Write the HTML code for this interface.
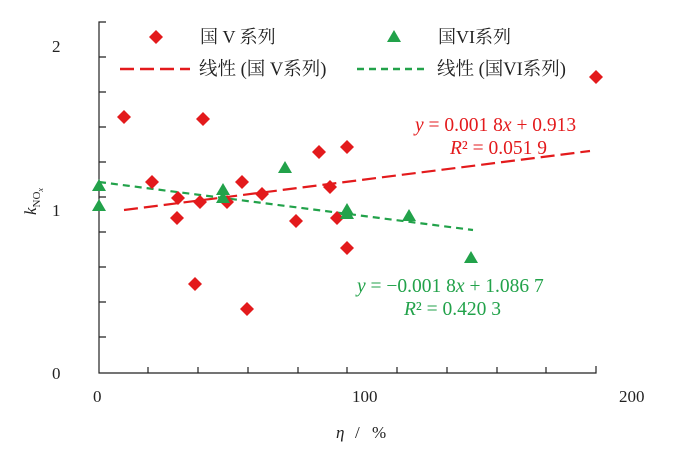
<!DOCTYPE html>
<html><head><meta charset="utf-8"><style>
html,body{margin:0;padding:0;background:#fff;}
svg text{font-family:"Liberation Serif","Noto Serif CJK SC",serif;}
</style></head><body>
<svg width="680" height="459" xmlns="http://www.w3.org/2000/svg">
<g stroke="#222" stroke-width="1.2" fill="none">
<path d="M106,22 H99 V373 H596 V366"/>
<path d="M99,57h7M99,92h7M99,127h7M99,162h7M99,197h7M99,232h7M99,267h7M99,302h7M99,337h7"/>
<path d="M148,373v-6M198,373v-6M248,373v-6M298,373v-6M347,373v-6M397,373v-6M447,373v-6M497,373v-6M546,373v-6"/>
</g>
<g font-size="17" fill="#222">
<text x="52" y="52">2</text><text x="52" y="216">1</text><text x="52" y="379">0</text>
<text x="93" y="402">0</text><text x="352" y="402">100</text><text x="619" y="402">200</text>
<text x="336" y="438" font-style="italic">η</text><text x="355" y="438">/</text><text x="372" y="438">%</text>
<text transform="translate(36,215) rotate(-90)" font-style="italic">k<tspan font-size="11" font-style="normal" dy="4">NO</tspan><tspan font-size="8" dy="3">x</tspan></text>
</g>
<!-- legend -->
<path d="M156,30l7,7l-7,7l-7,-7z" fill="#e31a1c"/>
<text x="200" y="43" font-size="18" fill="#222">国 V 系列</text>
<path d="M394,30l7,12h-14z" fill="#22a24a"/>
<text x="438" y="43" font-size="18" fill="#222">国VI系列</text>
<path d="M120,69H190" stroke="#e31a1c" stroke-width="2.5" stroke-dasharray="14,6"/>
<text x="199" y="75" font-size="18.5" fill="#222">线性 (国 V系列)</text>
<path d="M357,69H425" stroke="#22a24a" stroke-width="2.5" stroke-dasharray="7,5"/>
<text x="437" y="75" font-size="18.5" fill="#222">线性 (国VI系列)</text>
<!-- trend lines -->
<path d="M124,210L590,151" stroke="#e31a1c" stroke-width="2.2" stroke-dasharray="14,6"/>
<path d="M99,182L473,230" stroke="#22a24a" stroke-width="2.2" stroke-dasharray="7,5"/>
<!-- red -->
<g fill="#e31a1c">
<path id="d" d="M0,-7l7,7l-7,7l-7,-7z" transform="translate(124,117)"/>
<use href="#d" x="79" y="2"/><use href="#d" x="28" y="65"/><use href="#d" x="54" y="81"/>
<use href="#d" x="53" y="101"/><use href="#d" x="76" y="85"/><use href="#d" x="103" y="85"/>
<use href="#d" x="71" y="167"/><use href="#d" x="123" y="192"/><use href="#d" x="118" y="65"/>
<use href="#d" x="138" y="77"/><use href="#d" x="172" y="104"/><use href="#d" x="195" y="35"/>
<use href="#d" x="206" y="70"/><use href="#d" x="213" y="101"/><use href="#d" x="223" y="30"/>
<use href="#d" x="223" y="131"/><use href="#d" x="472" y="-40"/>
</g>
<g fill="#22a24a">
<path id="t" d="M0,-7l7,12h-14z" transform="translate(99,186)"/>
<use href="#t" x="0" y="20"/><use href="#t" x="124" y="4"/><use href="#t" x="124" y="12"/>
<use href="#t" x="186" y="-18"/><use href="#t" x="248" y="24"/><use href="#t" x="248" y="28"/>
<use href="#t" x="310" y="30"/><use href="#t" x="372" y="72"/>
</g>
<g font-size="19.5" fill="#e31a1c">
<text x="415" y="131"><tspan font-style="italic">y</tspan> = 0.001 8<tspan font-style="italic">x</tspan> + 0.913</text>
<text x="450" y="154"><tspan font-style="italic">R</tspan>² = 0.051 9</text>
</g>
<g font-size="19.5" fill="#22a24a">
<text x="357" y="292"><tspan font-style="italic">y</tspan> = −0.001 8<tspan font-style="italic">x</tspan> + 1.086 7</text>
<text x="404" y="315"><tspan font-style="italic">R</tspan>² = 0.420 3</text>
</g>
</svg>
</body></html>
